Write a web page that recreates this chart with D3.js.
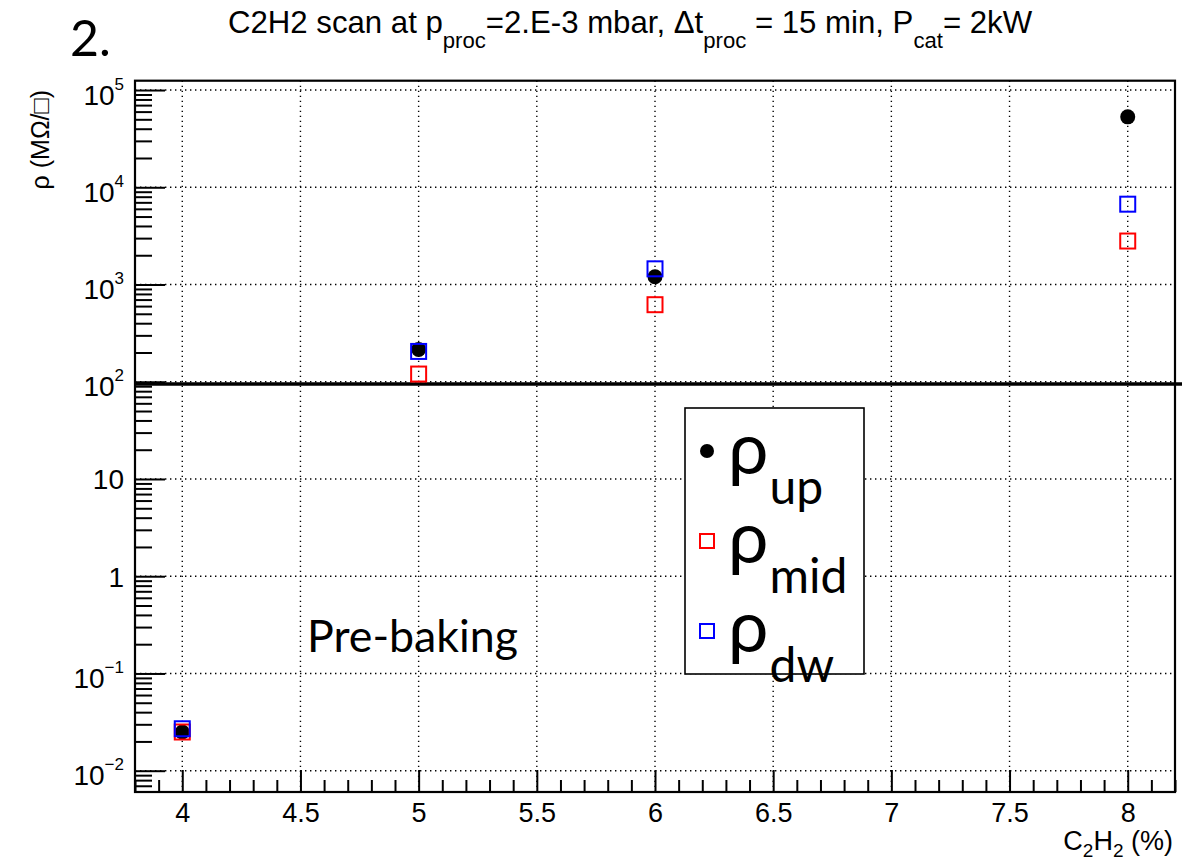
<!DOCTYPE html>
<html><head><meta charset="utf-8">
<script src="https://cdn.jsdelivr.net/npm/d3@7"></script>
<style>body{margin:0;background:#fff}</style>
</head><body>
<svg id="chart" width="1194" height="860"></svg>
<script>
// C2H2 concentration scan: sheet resistivity at three positions
const concentration = [4, 5, 6, 8];
const rhoUp  = [0.025, 215, 1200, 53000];
const rhoMid = [0.025, 120, 620, 2800];
const rhoDw  = [0.027, 205, 1450, 6700];
const xMajorTicks = [4, 4.5, 5, 5.5, 6, 6.5, 7, 7.5, 8];
const xTickLabels = ["4", "4.5", "5", "5.5", "6", "6.5", "7", "7.5", "8"];
const yDecades = [-2, -1, 0, 1, 2, 3, 4, 5];
const limitValue = 95;

const frame = {left: 135, right: 1175, top: 80.7, bottom: 792};
const svg = d3.select("#chart");
const rootFont = "'Liberation Sans', Arial, sans-serif";
const slideFont = "Lato, 'Noto Sans', sans-serif";

const x = d3.scaleLinear([3.8, 8.2], [frame.left, frame.right]);
const y = d3.scaleLog([Math.pow(10, -2.219), Math.pow(10, 5.096)], [frame.bottom, frame.top]);

// dotted grid
const grid = svg.append("g").attr("stroke", "#000").attr("stroke-width", 1.4)
  .attr("stroke-dasharray", "1.4,3.6");
grid.selectAll(".gx").data(xMajorTicks).join("line")
  .attr("x1", d => x(d)).attr("x2", d => x(d))
  .attr("y1", frame.top).attr("y2", frame.bottom);
grid.selectAll(".gy").data(yDecades).join("line")
  .attr("x1", frame.left).attr("x2", frame.right)
  .attr("y1", d => y(Math.pow(10, d))).attr("y2", d => y(Math.pow(10, d)));

// axes
const xMinor = d3.range(38, 83).map(v => v / 10).filter(v => Math.round(v * 10) % 5 !== 0);
svg.append("g").attr("transform", `translate(0,${frame.bottom})`)
  .call(d3.axisBottom(x).tickValues(xMinor).tickSizeInner(-12).tickSizeOuter(0).tickFormat(""))
  .call(g => g.select(".domain").remove())
  .call(g => g.selectAll("line").attr("stroke-width", 2));
svg.append("g").attr("transform", `translate(0,${frame.bottom})`)
  .call(d3.axisBottom(x).tickValues(xMajorTicks).tickSizeInner(-22).tickSizeOuter(0)
    .tickPadding(8).tickFormat((d, i) => xTickLabels[i]))
  .call(g => g.select(".domain").remove())
  .call(g => g.selectAll("line").attr("stroke-width", 2))
  .call(g => g.selectAll("text").attr("font-family", rootFont).attr("font-size", 27)
    .attr("fill", "#000").attr("y", 30).attr("dy", 0));

const yMinor = [];
for (let e = -3; e <= 5; e++) for (let k = 2; k <= 9; k++) {
  const v = k * Math.pow(10, e);
  if (v >= y.domain()[0] && v <= y.domain()[1]) yMinor.push(v);
}
svg.append("g").attr("transform", `translate(${frame.left},0)`)
  .call(d3.axisLeft(y).tickValues(yMinor).tickSizeInner(-17).tickSizeOuter(0).tickFormat(""))
  .call(g => g.select(".domain").remove())
  .call(g => g.selectAll("line").attr("stroke-width", 2));
svg.append("g").attr("transform", `translate(${frame.left},0)`)
  .call(d3.axisLeft(y).tickValues(yDecades.map(e => Math.pow(10, e))).tickSizeInner(-30)
    .tickSizeOuter(0).tickPadding(11).tickFormat(""))
  .call(g => g.select(".domain").remove())
  .call(g => g.selectAll("line").attr("stroke-width", 2))
  .call(g => g.selectAll("text").each(function(d, i) {
    const e = yDecades[i];
    const t = d3.select(this).attr("font-family", rootFont).attr("fill", "#000")
      .attr("font-size", 28).attr("dy", 0);
    if (e === 0 || e === 1) {
      t.attr("y", 10).text(e === 0 ? "1" : "10");
    } else {
      t.attr("y", 14);
      t.append("tspan").text("10");
      t.append("tspan").attr("font-size", 17).attr("dy", -15)
        .text(e < 0 ? "\u2212" + (-e) : String(e));
    }
  }));

// frame
svg.append("rect").attr("x", frame.left).attr("y", frame.top)
  .attr("width", frame.right - frame.left).attr("height", frame.bottom - frame.top)
  .attr("fill", "none").attr("stroke", "#000").attr("stroke-width", 2.2);

// reference level
svg.append("line").attr("x1", frame.left).attr("x2", frame.right + 7)
  .attr("y1", y(limitValue)).attr("y2", y(limitValue))
  .attr("stroke", "#000").attr("stroke-width", 3.5);

// data markers
const pts = (vals) => concentration.map((c, i) => ({c, v: vals[i]}));
svg.append("g").selectAll("circle").data(pts(rhoUp)).join("circle")
  .attr("cx", d => x(d.c)).attr("cy", d => y(d.v)).attr("r", 7.5).attr("fill", "#000");
const S = 15;
[[rhoMid, "#ff0000"], [rhoDw, "#0000ff"]].forEach(([vals, col]) => {
  svg.append("g").selectAll("rect").data(pts(vals)).join("rect")
    .attr("x", d => x(d.c) - S / 2).attr("y", d => y(d.v) - S / 2)
    .attr("width", S).attr("height", S)
    .attr("fill", "none").attr("stroke", col).attr("stroke-width", 2);
});

// legend
const lg = svg.append("g");
lg.append("rect").attr("x", 685).attr("y", 408).attr("width", 179).attr("height", 266)
  .attr("fill", "#fff").attr("stroke", "#000").attr("stroke-width", 1.6);
const legendItems = [
  {sub: "up", kind: "circle", col: "#000"},
  {sub: "mid", kind: "square", col: "#ff0000"},
  {sub: "dw", kind: "square", col: "#0000ff"}
];
legendItems.forEach((it, i) => {
  const cy = 451 + i * 90;
  if (it.kind === "circle") {
    lg.append("circle").attr("cx", 707).attr("cy", cy).attr("r", 7).attr("fill", it.col);
  } else {
    lg.append("rect").attr("x", 707 - 7).attr("y", cy - 7).attr("width", 14).attr("height", 14)
      .attr("fill", "none").attr("stroke", it.col).attr("stroke-width", 2);
  }
  const t = lg.append("text").attr("x", 728).attr("y", 474 + i * 89)
    .attr("font-family", slideFont).attr("fill", "#000");
  t.append("tspan").attr("font-size", 72).text("\u03c1");
  t.append("tspan").attr("font-size", 48).attr("dy", 30).attr("dx", 1).text(it.sub);
});

// title
const title = svg.append("text").attr("font-family", rootFont).attr("font-size", 31).attr("fill", "#000");
[["C2H2 scan at p", 0], ["proc", 1], ["=2.E-3 mbar, \u0394t", 0], ["proc", 1],
 [" = 15 min, P", 0], ["cat", 1], ["= 2kW", 0]].forEach(([s, sub], i, arr) => {
  const prevSub = i > 0 ? arr[i - 1][1] : 0;
  const ts = title.append("tspan").text(s);
  if (sub) ts.attr("font-size", 22).attr("dy", 15);
  else if (prevSub) ts.attr("dy", -15);
});
const tw = title.node().getBBox().width;
title.attr("transform", `translate(228,33) scale(${805 / tw},1)`);

// y-axis title
svg.append("text").attr("transform", "translate(49,90) rotate(-90)")
  .attr("text-anchor", "end").attr("font-family", rootFont).attr("font-size", 25)
  .attr("fill", "#000").text("\u03c1 (M\u03a9/\u25a1)");

// x-axis title
const xt = svg.append("text").attr("x", 1173).attr("y", 850).attr("text-anchor", "end")
  .attr("font-family", rootFont).attr("font-size", 27).attr("fill", "#000");
xt.append("tspan").text("C");
xt.append("tspan").attr("font-size", 19).attr("dy", 7).text("2");
xt.append("tspan").attr("dy", -7).text("H");
xt.append("tspan").attr("font-size", 19).attr("dy", 7).text("2");
xt.append("tspan").attr("dy", -7).text(" (%)");

// slide annotations
svg.append("text").attr("x", 70).attr("y", 56).attr("font-family", slideFont)
  .attr("font-size", 50).attr("fill", "#000").text("2.");
const pb = svg.append("text").attr("x", 307).attr("y", 652).attr("font-family", slideFont)
  .attr("font-size", 40).attr("fill", "#000").text("Pre-baking");
const pbw = pb.node().getComputedTextLength();
pb.attr("font-size", 40 * 211 / pbw);
</script>
</body></html>
